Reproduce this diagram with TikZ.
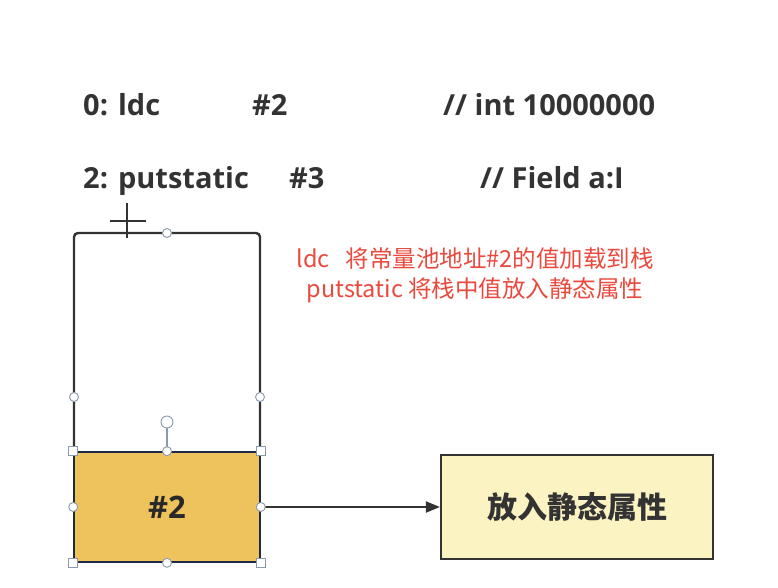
\documentclass[tikz,border=0pt]{standalone}
\usepackage{fontspec}
\setmainfont{Open Sans}
\newfontfamily\cjkfont{Noto Sans CJK SC}
\usetikzlibrary{arrows.meta,positioning}
\definecolor{codegray}{HTML}{333333}
\definecolor{stackyellow}{HTML}{EEC35C}
\definecolor{lightyellow}{HTML}{FBF3C2}
\definecolor{notered}{HTML}{EA4A3E}
\definecolor{handlegray}{HTML}{8A9AAE}
\definecolor{navyedge}{HTML}{1F2A44}
\tikzset{
  codetext/.style={anchor=base west, inner sep=0pt, font=\fontsize{29}{34}\selectfont\bfseries, text=codegray},
  handlecirc/.style={circle, draw=handlegray, fill=white, line width=0.9pt, minimum size=9pt, inner sep=0pt},
  handlesq/.style={rectangle, draw=handlegray, fill=white, line width=0.9pt, minimum size=9pt, inner sep=0pt},
  outline/.style={draw=codegray, line width=2.4pt},
}
\begin{document}
\begin{tikzpicture}[x=1pt,y=-1pt]
\useasboundingbox[fill=white] (0,0) rectangle (778,588);

% code lines
\node[codetext] (l0a) at (83,116) {0: ldc};
\node[codetext] (l0b) at (252,116) {\#2};
\node[codetext] (l0c) at (443,116) {// int 10000000};
\node[codetext] (l1a) at (83,189) {2: putstatic};
\node[codetext] (l1b) at (289,189) {\#3};
\node[codetext] (l1c) at (480,189) {// Field a:I};

% stack outline
\coordinate (olb) at (74,452);
\coordinate (ort) at (260,452);
\draw[outline, rounded corners=4pt] (olb) -- (74,233) -- (260,233) -- (ort);

% cross marker
\draw[codegray, line width=2.2pt] (110,221) -- (146,221);
\draw[codegray, line width=2.2pt] (127,203) -- (127,238);

% stack cell
\node[draw=navyedge, line width=1.6pt, fill=stackyellow, minimum width=186pt, minimum height=110pt, inner sep=0pt,
      font=\fontsize{31}{34}\selectfont\bfseries, text=codegray!80!black] (cell) at (167,507) {\#2};

% target box
\node[draw=codegray, line width=2.2pt, fill=lightyellow, minimum width=272pt, minimum height=104pt, inner sep=0pt,
      font=\cjkfont\fontsize{30}{34}\selectfont\bfseries, text=codegray] (target) at (577,507) {放入静态属性};

% arrow
\draw[codegray, line width=2pt, -{Triangle[length=14pt,width=11pt]}] (cell.east) -- (target.west);

% handles
\draw[handlegray, line width=1.2pt] (cell.north) -- (167,422);
\node[handlecirc, minimum size=12pt] (rot) at (167,422) {};
\node[handlecirc] (hol) at (74,397) {};
\node[handlecirc] (hor) at (260,397) {};
\node[handlecirc] (hot) at (167,233) {};
\node[handlesq] (c1) at (cell.north west) {};
\node[handlesq] (c2) at (cell.north east) {};
\node[handlesq] (c3) at (cell.south west) {};
\node[handlesq] (c4) at (cell.south east) {};
\node[handlecirc] (m1) at (cell.north) {};
\node[handlecirc] (m2) at (cell.south) {};
\node[handlecirc] (m3) at (cell.west) {};
\node[handlecirc] (m4) at (cell.east) {};

% red note
\node[align=center, text=notered, inner sep=0pt, font=\cjkfont\fontsize{23.5}{30}\selectfont] (note) at (475,275)
  {ldc\hspace{16pt}将常量池地址\#2的值加载到栈\\putstatic 将栈中值放入静态属性};
\end{tikzpicture}
\end{document}
